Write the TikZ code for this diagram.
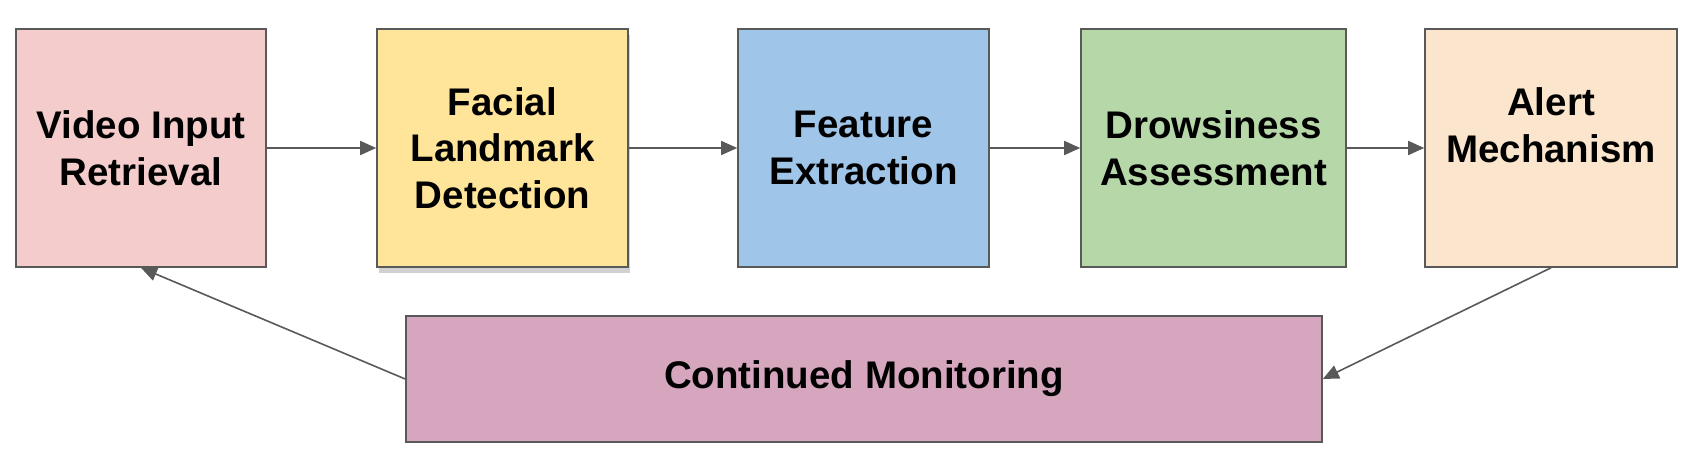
\documentclass[tikz,border=0pt]{standalone}
\usepackage{fontspec}
\setmainfont{Liberation Sans}
\usetikzlibrary{arrows.meta,shadows}
\definecolor{cA}{HTML}{F4CCCC}
\definecolor{cB}{HTML}{FFE599}
\definecolor{cC}{HTML}{9FC5E8}
\definecolor{cD}{HTML}{B6D7A8}
\definecolor{cE}{HTML}{FCE5CD}
\definecolor{cF}{HTML}{D5A6BD}
\definecolor{edge}{HTML}{595959}
\tikzset{
  stagebox/.style={draw=edge, line width=1.6pt, inner sep=0pt, align=center,
    font=\fontsize{38.5}{46.5}\selectfont\bfseries},
  lbl/.style={inner sep=0pt, align=center, font=\fontsize{38.5}{46.5}\selectfont\bfseries},
  flow/.style={draw=edge, line width=1.6pt, -{Triangle[length=16pt,width=14pt]}},
  softshadow/.style={drop shadow={shadow xshift=2pt, shadow yshift=-6pt, opacity=0.3, fill=black!60}}
}
\begin{document}
\begin{tikzpicture}[x=1pt,y=-1pt]
\useasboundingbox (0,0) rectangle (1689,460);
\node[stagebox, fill=cA, minimum width=250, minimum height=238] (b1) at (141,148) {Video Input\\Retrieval};
\node[stagebox, fill=cB, minimum width=251, minimum height=238, softshadow] (b2) at (502.5,148) {Facial\\Landmark\\Detection};
\node[stagebox, fill=cC, minimum width=251, minimum height=238] (b3) at (863.5,148) {Feature\\Extraction};
\node[stagebox, fill=cD, minimum width=265, minimum height=238] (b4) at (1213.5,148) {Drowsiness\\Assessment};
\node[stagebox, fill=cE, minimum width=252, minimum height=238] (b5) at (1551,148) {};
\node[lbl] (t5) at (1551,125) {Alert\\Mechanism};
\node[stagebox, fill=cF, minimum width=916, minimum height=126] (b6) at (864,379) {Continued Monitoring};
\draw[flow] (b1.east) -- (b2.west);
\draw[flow] (b2.east) -- (b3.west);
\draw[flow] (b3.east) -- (b4.west);
\draw[flow] (b4.east) -- (b5.west);
\draw[flow] (b5.south) -- (b6.east);
\draw[flow] (b6.west) -- (b1.south);
\end{tikzpicture}
\end{document}
